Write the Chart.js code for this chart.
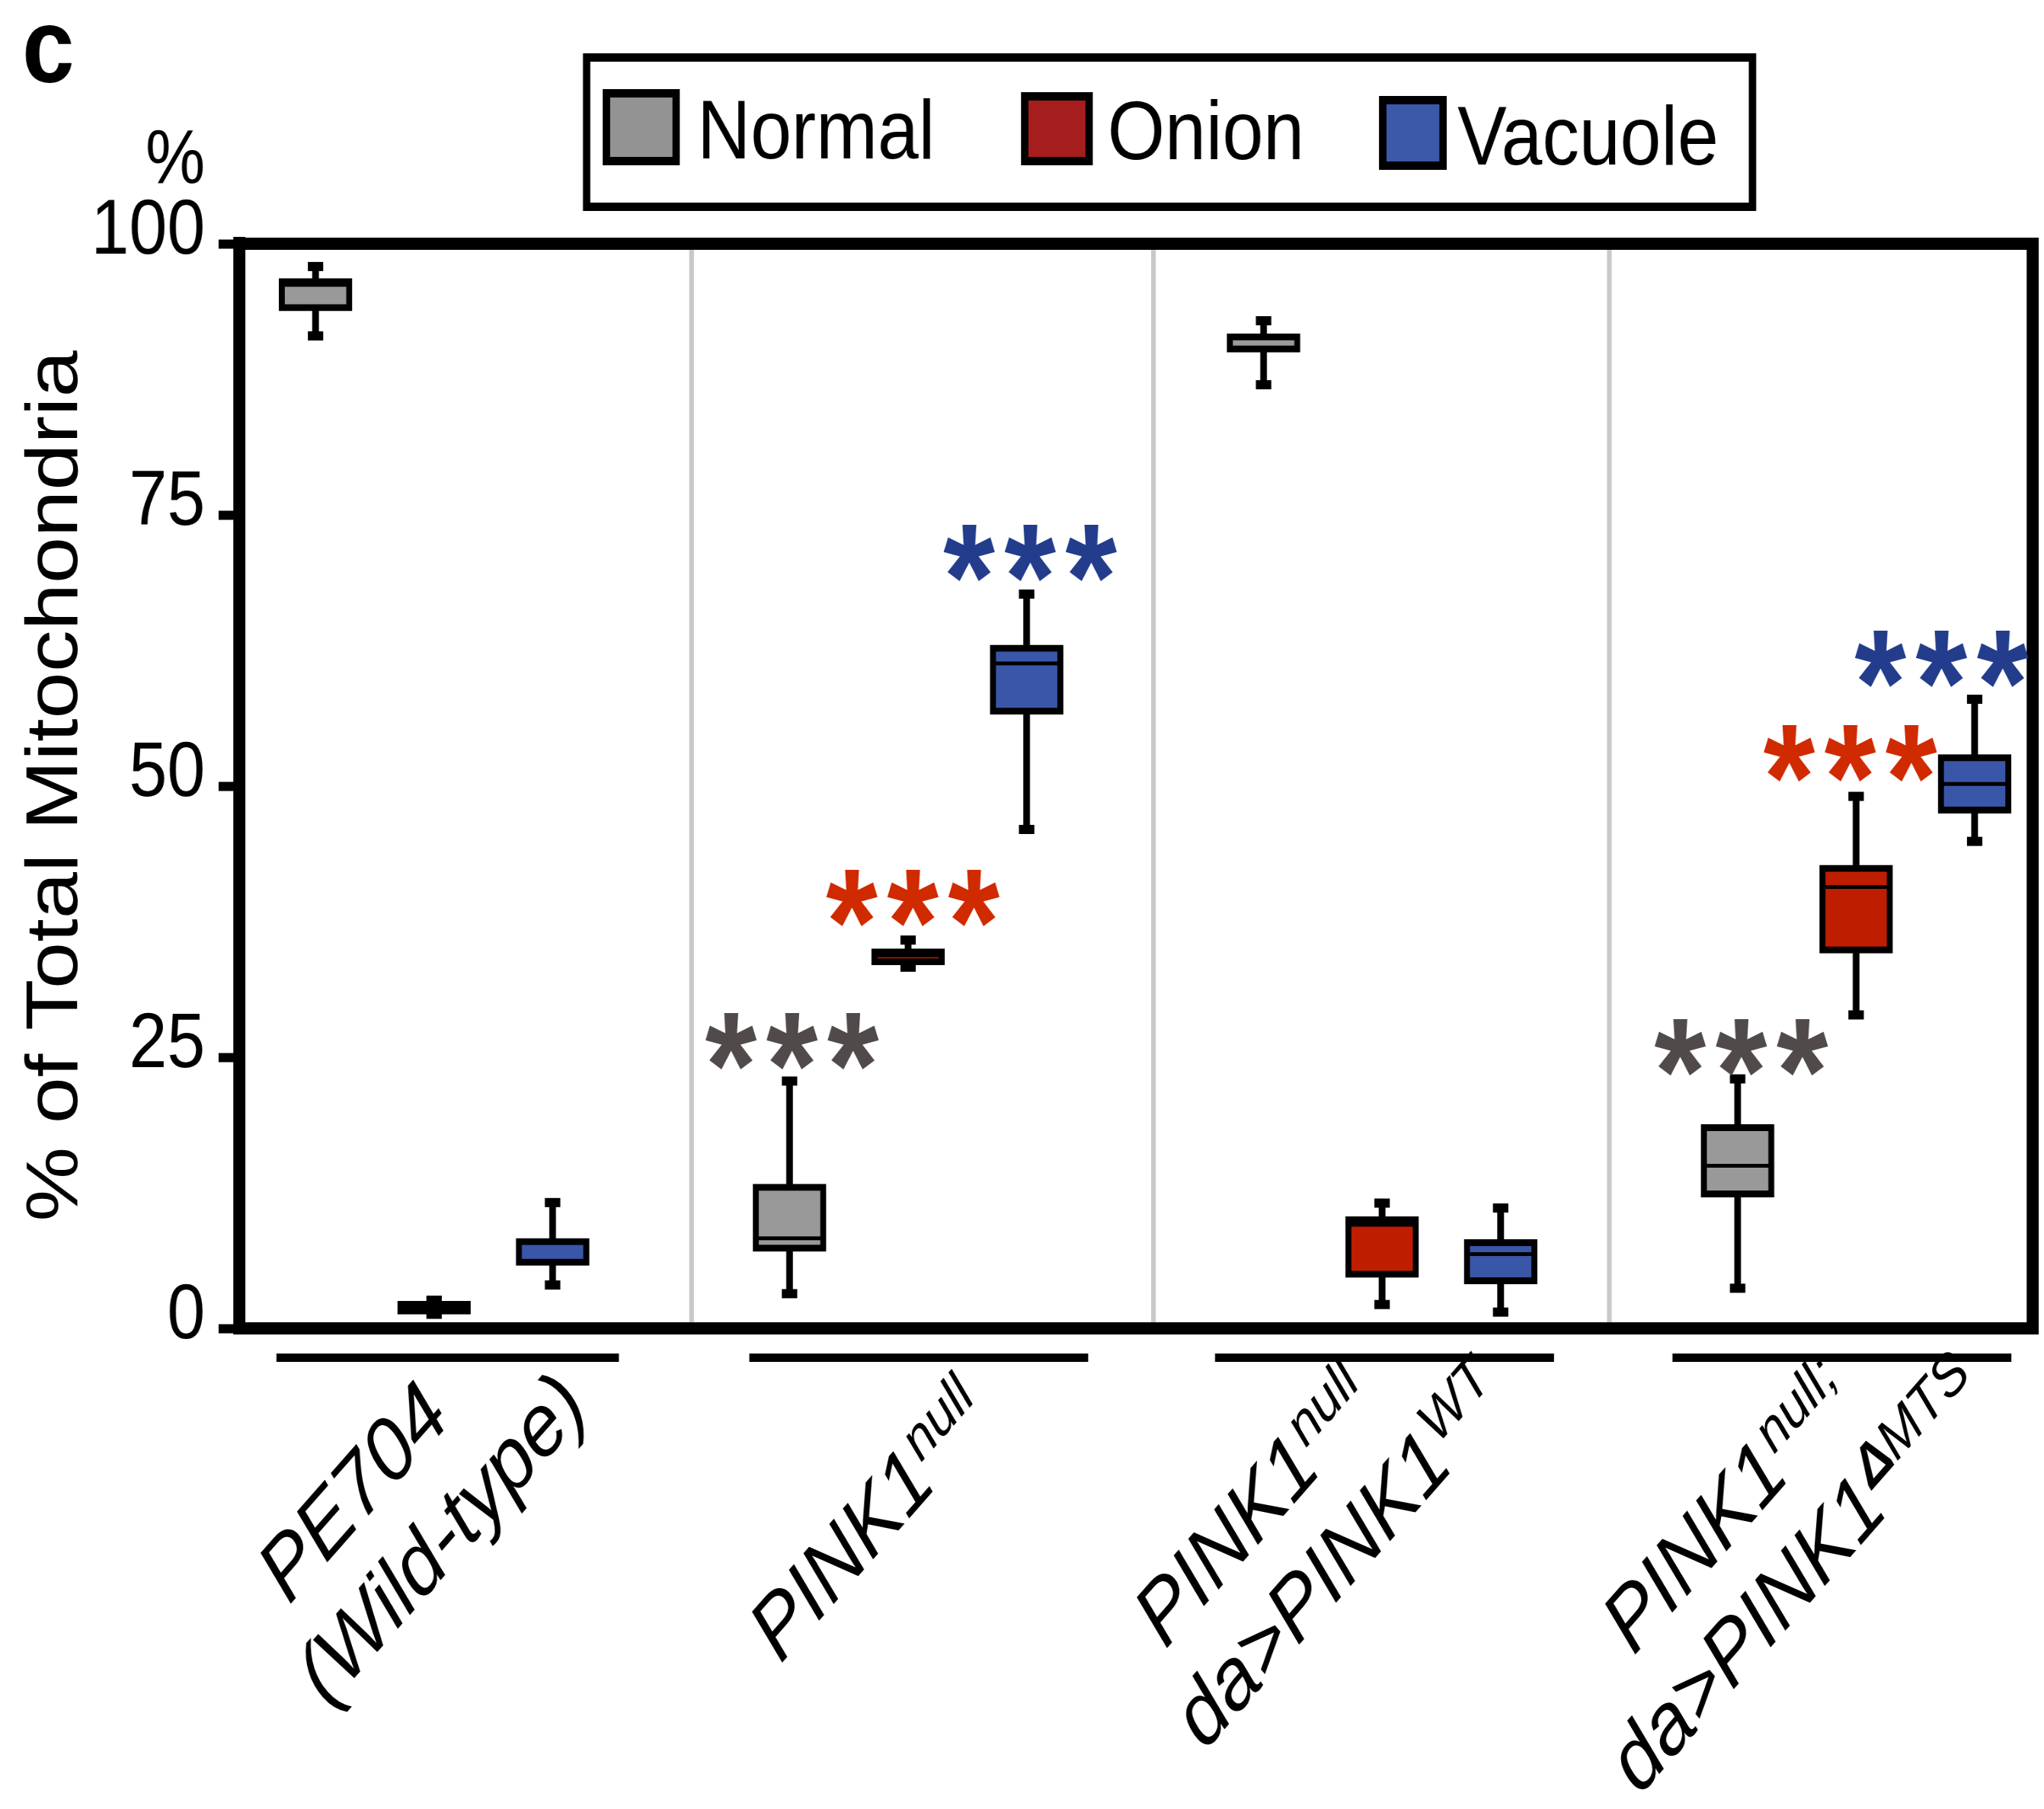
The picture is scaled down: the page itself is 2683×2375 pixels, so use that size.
<!DOCTYPE html>
<html><head><meta charset="utf-8">
<script src="https://cdn.jsdelivr.net/npm/chart.js@4.4.1/dist/chart.umd.min.js"></script>
<style>
html,body{margin:0;padding:0;overflow:hidden;background:#fff;width:2683px;height:2375px;}
#wrap{position:absolute;left:0;top:0;width:3049px;height:2375px;transform:scaleX(0.88);transform-origin:0 0;}
canvas{display:block;}
</style></head><body>
<div id="wrap"><canvas id="c" width="3049" height="2375"></canvas></div>
<script>
// ---------------- data ----------------
const groupLabels = ['PE704\n(Wild-type)', 'PINK1^null', 'PINK1^null\nda>PINK1^WT', 'PINK1^null;\nda>PINK1^ΔMTS'];
const seriesNames = ['Normal', 'Onion', 'Vacuole'];
const yTicks = [0, 25, 50, 75, 100];
// five-number summary per group: [min, q1, median, q3, max]
const normalStats  = [[91.5, 93.8, 96.2, 96.8, 97.9], [3.2, 7.1, 8.3, 13.3, 22.8], [87.0, 90.0, 91.5, 91.7, 92.9], [3.7, 12.1, 15.0, 18.8, 23.0]];
const onionStats   = [[1.3, 1.3, 1.9, 2.5, 2.6], [33.3, 33.5, 34.4, 35.0, 35.8], [2.2, 4.7, 9.55, 10.3, 11.55], [28.9, 34.6, 40.7, 42.7, 49.05]];
const vacuoleStats = [[4.0, 5.8, 6.1, 8.3, 11.6], [46.0, 56.6, 61.3, 63.0, 67.7], [1.5, 4.1, 6.85, 8.2, 11.1], [44.9, 47.5, 50.2, 52.9, 58.0]];
// significance annotations
const starText   = ['***', '***', '***', '***', '***', '***'];
const starSeries = [0, 1, 2, 0, 1, 2];
const starX      = [5.02, 6.04, 7.03, 13.03, 13.95, 14.72];
const starY      = [26.5, 39.7, 71.5, 25.9, 53.0, 61.7];

// ---------------- style / layout ----------------
const FAM = '"Liberation Sans", Arial, Helvetica, sans-serif';
const boxFill = ['#999999', '#bf1d00', '#3a56a8'];
const legendFill = ['#939393', '#a61d1d', '#3c58a8'];
const starColor = ['#514a4a', '#d02a00', '#233c8c'];
const separators = [4.17, 8.07, 11.92];
const underlineSpans = [[0.67, 3.56], [4.66, 7.52], [8.59, 11.45], [12.45, 15.31]];
// [dx, dy, second-line shift along the text]
const labelShift = [[-94, 242, 50], [-30, 281, 0], [-163, 262, 45], [-164, 263, 10]];
const xPos = (g, s) => g * 4 + s + 1;
const statsBySeries = [normalStats, onionStats, vacuoleStats];

const datasets = seriesNames.map((name, s) => ({
  label: name,
  data: statsBySeries[s].map((st, g) => ({ x: xPos(g, s), y: [st[1], st[3]] })),
  backgroundColor: boxFill[s],
  borderColor: '#000',
  borderWidth: 9,
  borderSkipped: false,
  barThickness: 109,
  maxBarThickness: 109,
  grouped: false
}));

function drawRichLine(ctx, line, x, y, size, shift) {
  const parts = line.split('^');
  const base = parts[0], sup = parts[1] || '';
  const supSize = size * 0.66;
  ctx.font = `italic ${size}px ${FAM}`;
  const wb = ctx.measureText(base).width;
  const supChars = [...sup];
  let ws = 0;
  const supW = supChars.map(ch => {
    ctx.font = (ch === 'Δ' ? 'italic bold ' : 'italic ') + supSize + 'px ' + FAM;
    const w = ctx.measureText(ch).width; ws += w; return w;
  });
  const total = wb + ws + (sup ? 3 : 0);
  let sx = x - total / 2 + shift;
  ctx.font = `italic ${size}px ${FAM}`;
  ctx.fillText(base, sx, y);
  sx += wb + 3;
  supChars.forEach((ch, i) => {
    ctx.font = (ch === 'Δ' ? 'italic bold ' : 'italic ') + supSize + 'px ' + FAM;
    ctx.fillText(ch, sx, y - size * 0.34);
    sx += supW[i];
  });
}

const extras = {
  id: 'extras',
  beforeDatasetsDraw(chart) {
    const ctx = chart.ctx, xs = chart.scales.x, ys = chart.scales.y;
    ctx.save();
    ctx.fillStyle = '#000'; ctx.strokeStyle = '#000';
    statsBySeries.forEach((arr, s) => arr.forEach((st, g) => {
      const px = xs.getPixelForValue(xPos(g, s));
      const yMin = ys.getPixelForValue(st[0]), yMax = ys.getPixelForValue(st[4]);
      ctx.lineWidth = 10;
      ctx.beginPath(); ctx.moveTo(px, yMin); ctx.lineTo(px, yMax); ctx.stroke();
      ctx.fillRect(px - 11.5, yMin - 6, 23, 12);
      ctx.fillRect(px - 11.5, yMax - 6, 23, 12);
    }));
    ctx.restore();
  },
  afterDatasetsDraw(chart) {
    const ctx = chart.ctx, xs = chart.scales.x, ys = chart.scales.y, ca = chart.chartArea;
    ctx.save();
    ctx.strokeStyle = '#000';
    // medians
    statsBySeries.forEach((arr, s) => arr.forEach((st, g) => {
      const px = xs.getPixelForValue(xPos(g, s));
      const py = ys.getPixelForValue(st[2]);
      ctx.lineWidth = 5;
      ctx.beginPath(); ctx.moveTo(px - 50, py); ctx.lineTo(px + 50, py); ctx.stroke();
    }));
    // frame
    ctx.lineWidth = 16;
    ctx.beginPath(); ctx.moveTo(ca.left - 9, ca.top); ctx.lineTo(ca.right + 9, ca.top); ctx.stroke();
    ctx.beginPath(); ctx.moveTo(ca.left - 9, ca.bottom); ctx.lineTo(ca.right + 9, ca.bottom); ctx.stroke();
    ctx.lineWidth = 18;
    ctx.beginPath(); ctx.moveTo(ca.right, ca.top - 8); ctx.lineTo(ca.right, ca.bottom + 8); ctx.stroke();
    ctx.beginPath(); ctx.moveTo(ca.left, ca.top - 8); ctx.lineTo(ca.left, ca.bottom + 8); ctx.stroke();
    // stars
    ctx.font = `bold 198px ${FAM}`;
    try { ctx.letterSpacing = '14px'; } catch (e) {}
    ctx.textAlign = 'center'; ctx.textBaseline = 'alphabetic';
    starText.forEach((t, i) => {
      const m = ctx.measureText(t);
      const cy = ys.getPixelForValue(starY[i]);
      const base = cy + (m.actualBoundingBoxAscent - m.actualBoundingBoxDescent) / 2;
      ctx.fillStyle = starColor[starSeries[i]];
      ctx.fillText(t, xs.getPixelForValue(starX[i]) + 7, base);
    });
    try { ctx.letterSpacing = '0px'; } catch (e) {}
    ctx.restore();
  },
  afterDraw(chart) {
    const ctx = chart.ctx, xs = chart.scales.x, ca = chart.chartArea;
    ctx.save();
    ctx.fillStyle = '#000'; ctx.strokeStyle = '#000';
    // group underlines
    ctx.lineWidth = 11;
    underlineSpans.forEach(([a, b]) => {
      ctx.beginPath(); ctx.moveTo(xs.getPixelForValue(a), 1782.5); ctx.lineTo(xs.getPixelForValue(b), 1782.5); ctx.stroke();
    });
    // rotated group labels
    ctx.textAlign = 'left'; ctx.textBaseline = 'alphabetic';
    groupLabels.forEach((lab, g) => {
      const ax = xs.getPixelForValue(xPos(g, 1)) + labelShift[g][0];
      const ay = ca.bottom + labelShift[g][1];
      ctx.save();
      ctx.translate(ax, ay);
      ctx.rotate(-Math.PI / 4);
      lab.split('\n').forEach((line, i) => drawRichLine(ctx, line, 0, i * 136, 115, i * labelShift[g][2]));
      ctx.restore();
    });
    // panel letter and unit
    ctx.font = `bold 140px ${FAM}`;
    ctx.textAlign = 'left';
    ctx.fillText('c', 33, 108);
    ctx.font = `100px ${FAM}`;
    ctx.textAlign = 'right';
    ctx.fillText('%', 306, 240);
    // legend
    ctx.lineWidth = 11;
    ctx.strokeRect(875, 75.5, 2614 - 875, 271.5 - 75.5);
    const sw = [[899, 117, 115, 100], [1523, 121, 107, 96], [2057, 126, 101, 97]];
    const tx = [[1040, 208], [1652, 209], [2174, 216]];
    ctx.textAlign = 'left';
    chart.data.datasets.forEach((ds, i) => {
      const [x, y, w, h] = sw[i];
      ctx.fillStyle = legendFill[i];
      ctx.fillRect(x, y, w, h);
      ctx.lineWidth = 11;
      ctx.strokeStyle = '#000';
      ctx.strokeRect(x + 5.5, y + 5.5, w - 11, h - 11);
      ctx.fillStyle = '#000';
      ctx.font = `110px ${FAM}`;
      ctx.fillText(ds.label, tx[i][0], tx[i][1]);
    });
    ctx.restore();
  }
};

new Chart(document.getElementById('c').getContext('2d'), {
  type: 'bar',
  data: { datasets },
  options: {
    responsive: false,
    animation: false,
    devicePixelRatio: 1,
    layout: { padding: { top: 320, left: 0, right: 17, bottom: 0 } },
    plugins: { legend: { display: false }, tooltip: { enabled: false } },
    scales: {
      x: {
        type: 'linear', min: 0.357, max: 15.49, offset: false,
        afterBuildTicks: sc => { sc.ticks = separators.map(v => ({ value: v })); },
        afterFit: sc => { sc.height = 631; },
        ticks: { display: false },
        grid: { display: true, offset: false, drawOnChartArea: true, drawTicks: false, color: '#c9c9c9', lineWidth: 7 },
        border: { display: true, color: '#000', width: 16 }
      },
      y: {
        min: 0, max: 100,
        afterBuildTicks: sc => { sc.ticks = yTicks.map(v => ({ value: v })); },
        afterFit: sc => { sc.width = 357; },
        ticks: { font: { family: FAM, size: 102 }, color: '#000', padding: 20, labelOffset: -15, autoSkip: false },
        grid: { display: true, drawOnChartArea: false, drawTicks: true, tickLength: 31, tickWidth: 12, tickColor: '#000' },
        border: { display: true, color: '#000', width: 18 },
        title: { display: true, text: '% of Total Mitochondria', font: { family: FAM, size: 110 }, color: '#000', padding: { top: 19, bottom: 0 } }
      }
    }
  },
  plugins: [extras]
});
</script>
</body></html>
